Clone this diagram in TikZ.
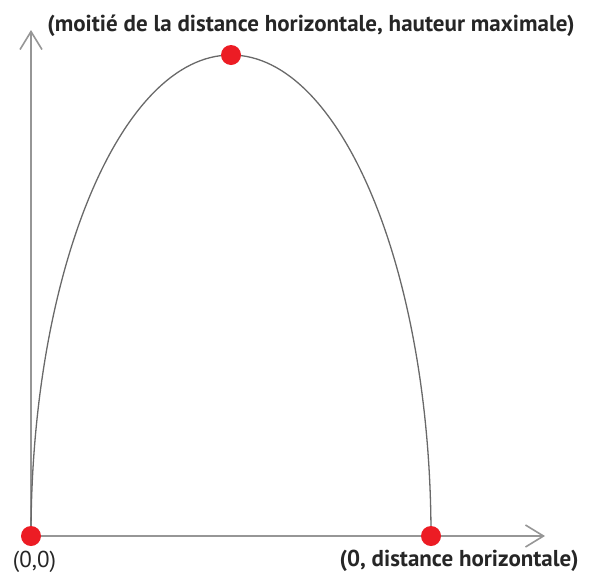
\documentclass[tikz,border=0pt]{standalone}
\usepackage{fontspec}
\setmainfont{PT Sans}
\usetikzlibrary{arrows.meta}

\definecolor{axisgray}{RGB}{150,150,150}
\definecolor{curvegray}{RGB}{105,105,105}
\definecolor{dotred}{RGB}{236,28,36}

\begin{document}
\begin{tikzpicture}[%
    x=1pt, y=-1pt,
    axis/.style={axisgray, line width=1.6pt, -{Straight Barb[length=18pt,width=22pt]}},
    path/.style={curvegray, line width=1.3pt},
    dot/.style={circle, fill=dotred, inner sep=0pt, minimum size=20pt},
    lbl/.style={font=\fontsize{23}{25}\selectfont\bfseries, text=black!85, inner sep=0pt}
]
    \useasboundingbox (0,0) rectangle (593,574);

    \coordinate (O) at (31,536);
    \coordinate (T) at (231,55);
    \coordinate (R) at (431,536);
    \coordinate (yend) at (31,30);
    \coordinate (xend) at (545,536);

    \draw[axis] (O) -- (yend);
    \draw[axis] (O) -- (xend);

    \draw[path] (O) .. controls +(0,-265) and +(-110,0) .. (T)
                    .. controls +(110,0) and +(0,-265) .. (R);

    \node[dot] (origin) at (O) {};
    \node[dot] (apex)   at (T) {};
    \node[dot] (range)  at (R) {};

    \node[lbl] (apexlbl)   at (311,26)  {(moitié de la distance horizontale, hauteur maximale)};
    \node[lbl, font=\fontsize{23}{25}\selectfont] (originlbl) at (34.5,562) {(0,0)};
    \node[lbl] (rangelbl)  at (459,561) {(0, distance horizontale)};
\end{tikzpicture}
\end{document}
